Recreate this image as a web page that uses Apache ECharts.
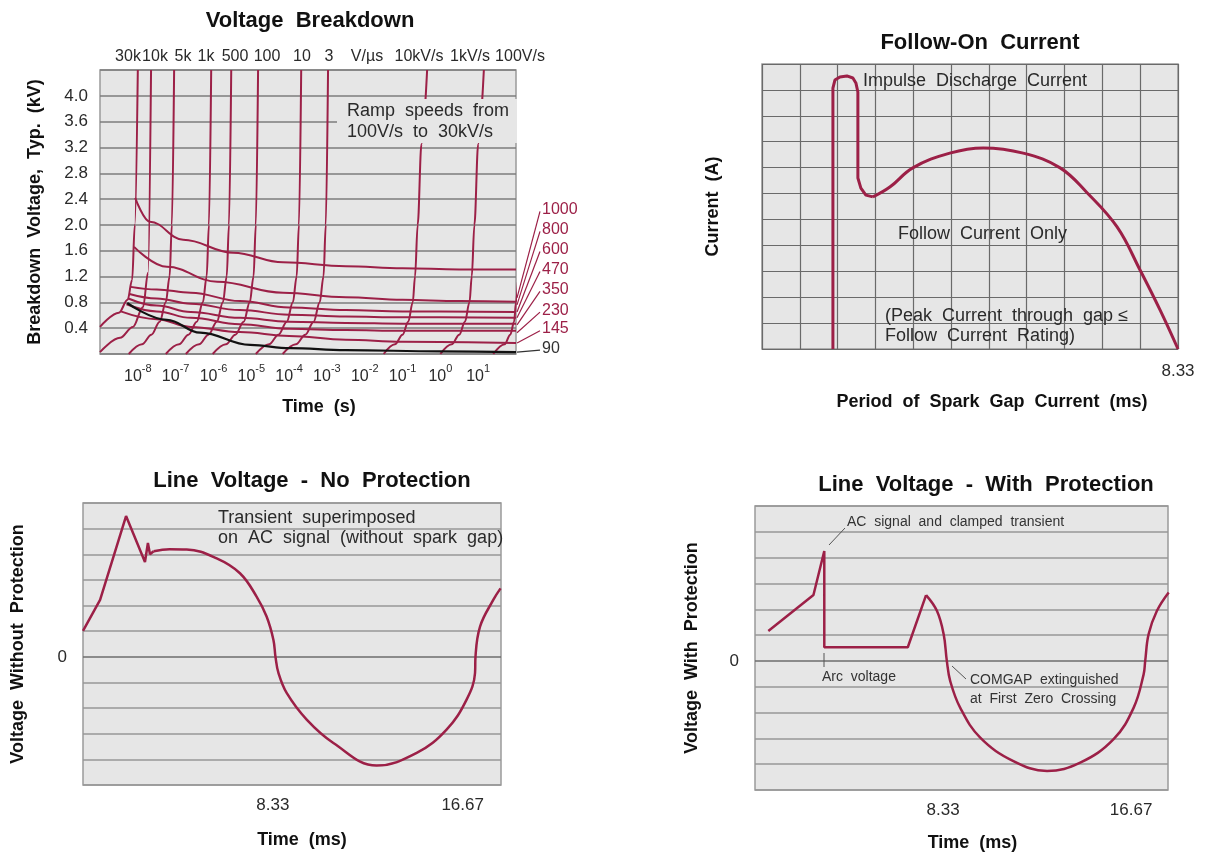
<!DOCTYPE html>
<html>
<head>
<meta charset="utf-8">
<script src="https://cdn.jsdelivr.net/npm/echarts@6/dist/echarts.min.js"></script>
<style>html,body{margin:0;padding:0;background:#fff}#c{width:1207px;height:855px}</style>
</head>
<body>
<div id="c"></div>
<script>
// ================= DATA =================
// Panel 1 - Voltage Breakdown. x = log10(time in s), y = kV
const vbTimeExponents = [-8, -7, -6, -5, -4, -3, -2, -1, 0, 1];
const rampSpeedLabels = ['30k', '10k', '5k', '1k', '500', '100', '10', '3', 'V/\u00b5s', '10kV/s', '1kV/s', '100V/s'];
const ramp30k   = [[-9.0,0.42],[-8.5,0.64],[-8.27,0.84],[-8.15,1.15],[-8.08,2.0],[-8.0,4.4]];
const ramp10k   = [[-9.0,0.03],[-8.47,0.25],[-8.13,0.42],[-7.86,0.73],[-7.73,1.26],[-7.65,4.4]];
const ramp5k    = [[-8.24,0],[-7.89,0.15],[-7.64,0.3],[-7.42,0.5],[-7.26,0.8],[-7.16,1.2],[-7.1,2.0],[-7.04,4.4]];
const ramp1k    = [[-7.26,0],[-6.91,0.15],[-6.66,0.3],[-6.44,0.5],[-6.28,0.8],[-6.18,1.2],[-6.12,2.0],[-6.06,4.4]];
const ramp500   = [[-6.73,0],[-6.38,0.15],[-6.13,0.3],[-5.91,0.5],[-5.75,0.8],[-5.65,1.2],[-5.59,2.0],[-5.53,4.4]];
const ramp100   = [[-6.02,0],[-5.67,0.15],[-5.42,0.3],[-5.2,0.5],[-5.04,0.8],[-4.94,1.2],[-4.88,2.0],[-4.82,4.4]];
const ramp10    = [[-4.88,0],[-4.53,0.15],[-4.28,0.3],[-4.06,0.5],[-3.9,0.8],[-3.8,1.2],[-3.74,2.0],[-3.68,4.4]];
const ramp3     = [[-4.17,0],[-3.82,0.15],[-3.57,0.3],[-3.35,0.5],[-3.19,0.8],[-3.09,1.2],[-3.03,2.0],[-2.97,4.4]];
const ramp10kVs = [[-1.5,0],[-1.2,0.15],[-1.0,0.3],[-0.85,0.5],[-0.73,0.8],[-0.67,1.2],[-0.6,2.0],[-0.5,3.25],[-0.35,4.4]];
const ramp1kVs  = [[0.0,0],[0.3,0.15],[0.5,0.3],[0.65,0.5],[0.77,0.8],[0.83,1.2],[0.9,2.0],[1.0,3.25],[1.15,4.4]];
const ramp100Vs = [[1.4,0],[1.7,0.15],[1.85,0.3],[1.95,0.5],[2.0,0.8],[2.06,1.2]];

const bd1000 = [[-8.07,2.42],[-7.68,2.05],[-6.8,1.77],[-5.48,1.57],[-4.16,1.42],[-2.5,1.36],[-1.0,1.33],[0.5,1.31],[2.0,1.31]];
const bd800  = [[-8.1,1.66],[-7.23,1.35],[-5.9,1.12],[-4.16,0.95],[-2.5,0.88],[-1.0,0.84],[0.5,0.82],[2.0,0.81]];
const bd600  = [[-8.19,1.04],[-7.5,1.0],[-6.6,0.95],[-5.3,0.82],[-4.0,0.72],[-2.5,0.68],[-1.0,0.66],[2.0,0.65]];
const bd470  = [[-8.22,0.93],[-7.5,0.86],[-6.6,0.78],[-5.3,0.68],[-4.0,0.61],[-2.5,0.58],[-1.0,0.57],[2.0,0.56]];
const bd350  = [[-8.25,0.86],[-7.5,0.75],[-6.6,0.65],[-5.3,0.56],[-4.0,0.50],[-2.5,0.48],[-1.0,0.47],[2.0,0.47]];
const bd230  = [[-8.3,0.77],[-7.5,0.66],[-6.6,0.56],[-5.3,0.46],[-4.0,0.39],[-2.5,0.37],[-1.0,0.36],[2.0,0.36]];
const bd145  = [[-8.45,0.66],[-7.5,0.54],[-6.6,0.42],[-5.3,0.34],[-4.0,0.28],[-2.5,0.22],[-1.0,0.19],[2.0,0.17]];
const bd90   = [[-8.28,0.79],[-7.23,0.53],[-6.35,0.33],[-5.03,0.14],[-3.97,0.09],[-2.5,0.06],[0,0.04],[2.0,0.03]];

const breakdownLabels = ['1000', '800', '600', '470', '350', '230', '145', '90'];
const leaderFromKV = [0.87, 0.76, 0.65, 0.56, 0.45, 0.33, 0.17, 0.03];
const leaderToKV   = [2.24, 1.93, 1.62, 1.31, 1.00, 0.68, 0.39, 0.09];
const leaderFromLogT = 2.0;

// Panel 2 - Follow-On Current. x = ms (0..8.33), y = grid divisions
const focEndMs = 8.33;
const focImpulse = [[1.42,0],[1.42,10.07],[1.46,10.38],[1.56,10.5],[1.70,10.54],[1.82,10.46],[1.88,10.27],[1.92,9.92],[1.92,6.6],[1.98,6.21],[2.08,5.94],[2.22,5.87]];
const focFollow  = [[2.22,5.87],[2.56,6.25],[3.02,6.99],[3.76,7.56],[4.43,7.76],[5.23,7.56],[5.97,6.99],[6.5,6.05],[7.11,4.71],[7.57,3.05],[7.97,1.51],[8.33,0]];

// Panels 3 & 4 - Line voltage, x = ms, y = grid divisions (0 = zero line)
const timeTicksMs = [8.33, 16.67];
const noProtTransient = [[0,1.01],[0.75,2.22],[1.89,5.49],[2.72,3.7],[2.85,4.44],[2.94,4.0],[3.1,4.12]];
const noProtAC = [[3.1,4.12],[3.8,4.2],[4.55,4.19],[5.87,3.84],[6.89,3.26],[7.62,2.35],[8.06,1.57],[8.36,0.66],[8.45,0.0],[8.58,-0.63],[8.94,-1.41],[9.82,-2.45],[10.99,-3.36],[12.89,-4.24],[14.65,-3.75],[15.96,-2.84],[16.84,-1.67],[17.21,-0.63],[17.23,0.0],[17.43,1.18],[18.01,2.22],[18.33,2.67]];
const withProtTransient = [[0.59,1.16],[2.59,2.55],[3.07,4.26],[3.07,0.53],[6.77,0.53],[7.58,2.55]];
const withProtAC = [[7.58,2.55],[8.06,1.94],[8.36,1.03],[8.5,0],[8.65,-0.78],[9.09,-1.81],[9.98,-2.97],[11.45,-3.88],[12.94,-4.26],[14.41,-3.94],[15.89,-3.03],[16.78,-1.81],[17.22,-0.52],[17.29,0],[17.44,1.03],[17.81,1.94],[18.33,2.65]];

// ================= CHART =================
const FONT = '"Liberation Sans", Arial, Helvetica, sans-serif';
const RED = '#9c2047';
const BG = '#e6e6e6';
const TXT = '#2a2a2a';

const chart = echarts.init(document.getElementById('c'), null, {renderer: 'canvas'});

function nameStyle() { return {fontFamily: FONT, fontSize: 18, fontWeight: 'bold', color: '#111'}; }

const rampSeries = [ramp30k, ramp10k, ramp5k, ramp1k, ramp500, ramp100, ramp10, ramp3, ramp10kVs, ramp1kVs, ramp100Vs].map(d => ({
  type: 'line', xAxisIndex: 0, yAxisIndex: 0, data: d, showSymbol: false, symbol: 'none',
  smooth: 0.35, smoothMonotone: 'x', lineStyle: {color: RED, width: 2}, z: 3
}));
const bdRed = [bd1000, bd800, bd600, bd470, bd350, bd230, bd145].map(d => ({
  type: 'line', xAxisIndex: 0, yAxisIndex: 0, data: d, showSymbol: false, symbol: 'none',
  smooth: 0.4, smoothMonotone: 'x', lineStyle: {color: RED, width: 2}, z: 3
}));
const bdBlack = {type: 'line', xAxisIndex: 0, yAxisIndex: 0, data: bd90, showSymbol: false, symbol: 'none',
  smooth: 0.4, smoothMonotone: 'x', lineStyle: {color: '#111', width: 2.2}, z: 4};

const lineSeries = (xi, data, smooth, width) => ({
  type: 'line', xAxisIndex: xi, yAxisIndex: xi, data: data, showSymbol: false, symbol: 'none',
  smooth: smooth, lineStyle: {color: RED, width: width}, z: 3
});

const rampLabelX = [128, 155, 183, 206, 235, 267, 302, 329, 367, 419, 470, 520];

const graphics = [];
rampSpeedLabels.forEach((t, i) => graphics.push({type: 'text', x: rampLabelX[i], y: 57, z: 100,
  style: {text: t, fill: TXT, fontFamily: FONT, fontSize: 16, align: 'center', verticalAlign: 'middle'}}));
graphics.push({type: 'rect', z: 99, shape: {x: 337, y: 99, width: 180, height: 44}, style: {fill: BG}});
function addText(t, x, y, size, col) {
  graphics.push({type: 'text', x: x, y: y, z: 100,
    style: {text: t, fill: col || TXT, fontFamily: FONT, fontSize: size, align: 'left', verticalAlign: 'middle'}});
}
function addLine(x1, y1, x2, y2, col, w) {
  graphics.push({type: 'line', z: 100, shape: {x1, y1, x2, y2}, style: {stroke: col || '#555', lineWidth: w || 1}});
}
addText('Ramp  speeds  from', 347, 111, 18);
addText('100V/s  to  30kV/s', 347, 132, 18);
addText('Impulse  Discharge  Current', 863, 81, 18);
addText('Follow  Current  Only', 898, 234, 18);
addText('(Peak  Current  through  gap \u2264', 885, 316, 18);
addText('Follow  Current  Rating)', 885, 336, 18);
addText('Transient  superimposed', 218, 518, 18);
addText('on  AC  signal  (without  spark  gap)', 218, 538, 18);
addText('AC  signal  and  clamped  transient', 847, 522, 14, '#333');
addText('Arc  voltage', 822, 677, 14, '#333');
addText('COMGAP  extinguished', 970, 680, 14, '#333');
addText('at  First  Zero  Crossing', 970, 699, 14, '#333');
addLine(845, 528, 829, 545);
addLine(824, 653, 824, 667);
addLine(952, 666, 966, 679);

const zeroGrid = [];
for (let i = 0; i < 12; i++) zeroGrid.push(i === 5 ? '#6c6c6c' : '#979797');

const option = {
  animation: false,
  backgroundColor: '#fff',
  textStyle: {fontFamily: FONT},
  title: [
    {text: 'Voltage  Breakdown', left: 305, top: 5, textAlign: 'center'},
    {text: 'Follow-On  Current', left: 975, top: 27, textAlign: 'center'},
    {text: 'Line  Voltage  -  No  Protection', left: 307, top: 465, textAlign: 'center'},
    {text: 'Line  Voltage  -  With  Protection', left: 981, top: 469, textAlign: 'center'}
  ].map(t => Object.assign(t, {textStyle: {fontFamily: FONT, fontSize: 22, fontWeight: 'bold', color: '#111'}})),
  grid: [
    {left: 100, top: 70, width: 416, height: 284},
    {left: 762, top: 64, width: 416, height: 285},
    {left: 83, top: 503, width: 418, height: 282},
    {left: 755, top: 506, width: 413, height: 284}
  ].map(g => Object.assign(g, {show: true, backgroundColor: BG, borderColor: '#9a9a9a', borderWidth: 1.5})),
  xAxis: [
    {gridIndex: 0, type: 'value', min: -9, max: 2, interval: 1,
      name: 'Time  (s)', nameLocation: 'middle', nameGap: 44, nameTextStyle: Object.assign(nameStyle(), {padding: [0, 0, 0, 22]}),
      axisLine: {show: false}, axisTick: {show: false}, splitLine: {show: false},
      axisLabel: {margin: 9,
        formatter: v => (v > -9 && v < 2 && vbTimeExponents.indexOf(Math.round(v)) >= 0) ? '{b|10}{s|' + Math.round(v) + '}' : '',
        rich: {b: {fontFamily: FONT, fontSize: 16, color: TXT, lineHeight: 22, verticalAlign: 'bottom'},
               s: {fontFamily: FONT, fontSize: 11, color: TXT, lineHeight: 12, verticalAlign: 'top'}}}},
    {gridIndex: 1, type: 'value', min: 0, max: focEndMs, interval: focEndMs / 11,
      name: 'Period  of  Spark  Gap  Current  (ms)', nameLocation: 'middle', nameGap: 44,
      nameTextStyle: Object.assign(nameStyle(), {padding: [0, 0, 0, 44]}),
      axisLine: {show: false}, axisTick: {show: false},
      splitLine: {show: true, lineStyle: {color: '#6a6a6a', width: 1.2}},
      axisLabel: {showMaxLabel: true, margin: 14, fontFamily: FONT, fontSize: 17, color: TXT,
        formatter: v => Math.abs(v - focEndMs) < 1e-6 ? focEndMs.toFixed(2) : ''}},
    {gridIndex: 2, type: 'value', min: 0, max: 18.35, interval: 25 / 3,
      name: 'Time  (ms)', nameLocation: 'middle', nameGap: 46, nameTextStyle: Object.assign(nameStyle(), {padding: [0, 0, 0, 20]}),
      axisLine: {show: false}, axisTick: {show: false}, splitLine: {show: false},
      axisLabel: {margin: 12, fontFamily: FONT, fontSize: 17, color: TXT,
        formatter: v => { const m = timeTicksMs.find(t => Math.abs(t - v) < 0.01); return m ? m.toFixed(2) : ''; }}},
    {gridIndex: 3, type: 'value', min: 0, max: 18.3, interval: 25 / 3,
      name: 'Time  (ms)', nameLocation: 'middle', nameGap: 44, nameTextStyle: Object.assign(nameStyle(), {padding: [0, 0, 0, 22]}),
      axisLine: {show: false}, axisTick: {show: false}, splitLine: {show: false},
      axisLabel: {margin: 12, fontFamily: FONT, fontSize: 17, color: TXT,
        formatter: v => { const m = timeTicksMs.find(t => Math.abs(t - v) < 0.01); return m ? m.toFixed(2) : ''; }}}
  ],
  yAxis: [
    {gridIndex: 0, type: 'value', min: 0, max: 4.4, interval: 0.4,
      name: 'Breakdown  Voltage,  Typ.  (kV)', nameLocation: 'middle', nameGap: 56, nameTextStyle: nameStyle(),
      axisLine: {show: false}, axisTick: {show: false},
      splitLine: {show: true, lineStyle: {color: '#7d7d7d', width: 1.5}},
      axisLabel: {margin: 12, fontFamily: FONT, fontSize: 17, color: TXT,
        formatter: v => (v > 0.01 && v < 4.3) ? v.toFixed(1) : ''}},
    {gridIndex: 1, type: 'value', min: 0, max: 11, interval: 1,
      name: 'Current  (A)', nameLocation: 'middle', nameGap: 40, nameTextStyle: nameStyle(),
      axisLine: {show: false}, axisTick: {show: false}, axisLabel: {show: false},
      splitLine: {show: true, lineStyle: {color: '#6a6a6a', width: 1.2}}},
    {gridIndex: 2, type: 'value', min: -5, max: 6, interval: 1,
      name: 'Voltage  Without  Protection', nameLocation: 'middle', nameGap: 56, nameTextStyle: nameStyle(),
      axisLine: {show: false}, axisTick: {show: false},
      splitLine: {show: true, lineStyle: {color: zeroGrid, width: 1.5}},
      axisLabel: {margin: 16, fontFamily: FONT, fontSize: 17, color: TXT, formatter: v => Math.abs(v) < 1e-9 ? '0' : ''}},
    {gridIndex: 3, type: 'value', min: -5, max: 6, interval: 1,
      name: 'Voltage  With  Protection', nameLocation: 'middle', nameGap: 54, nameTextStyle: nameStyle(),
      axisLine: {show: false}, axisTick: {show: false},
      splitLine: {show: true, lineStyle: {color: zeroGrid, width: 1.5}},
      axisLabel: {margin: 16, fontFamily: FONT, fontSize: 17, color: TXT, formatter: v => Math.abs(v) < 1e-9 ? '0' : ''}}
  ],
  graphic: graphics,
  series: [].concat(rampSeries, bdRed, [bdBlack], [
    lineSeries(1, focImpulse, false, 3),
    lineSeries(1, focFollow, 0.4, 3),
    lineSeries(2, noProtTransient, false, 2.5),
    lineSeries(2, noProtAC, 0.4, 2.5),
    lineSeries(3, withProtTransient, false, 2.5),
    lineSeries(3, withProtAC, 0.4, 2.5)
  ])
};
chart.setOption(option);

// Leader lines and labels for the breakdown curves, placed through the panel-1 scales
const leaderGraphics = breakdownLabels.map((lab, i) => {
  const col = lab === '90' ? '#333' : RED;
  const p1 = chart.convertToPixel({xAxisIndex: 0, yAxisIndex: 0}, [leaderFromLogT, leaderFromKV[i]]);
  const p2 = chart.convertToPixel({xAxisIndex: 0, yAxisIndex: 0}, [leaderFromLogT, leaderToKV[i]]);
  const xEnd = p1[0] + 24;
  return {type: 'group', z: 100, children: [
    {type: 'line', z: 100, shape: {x1: p1[0] + 1, y1: p1[1], x2: xEnd, y2: p2[1] + 2}, style: {stroke: col, lineWidth: 1.2}},
    {type: 'text', z: 100, x: xEnd + 2, y: p2[1], style: {text: lab, fill: col, fontFamily: FONT, fontSize: 16, align: 'left', verticalAlign: 'middle'}}
  ]};
});
chart.setOption({graphic: graphics.concat(leaderGraphics)});
</script>
</body>
</html>
